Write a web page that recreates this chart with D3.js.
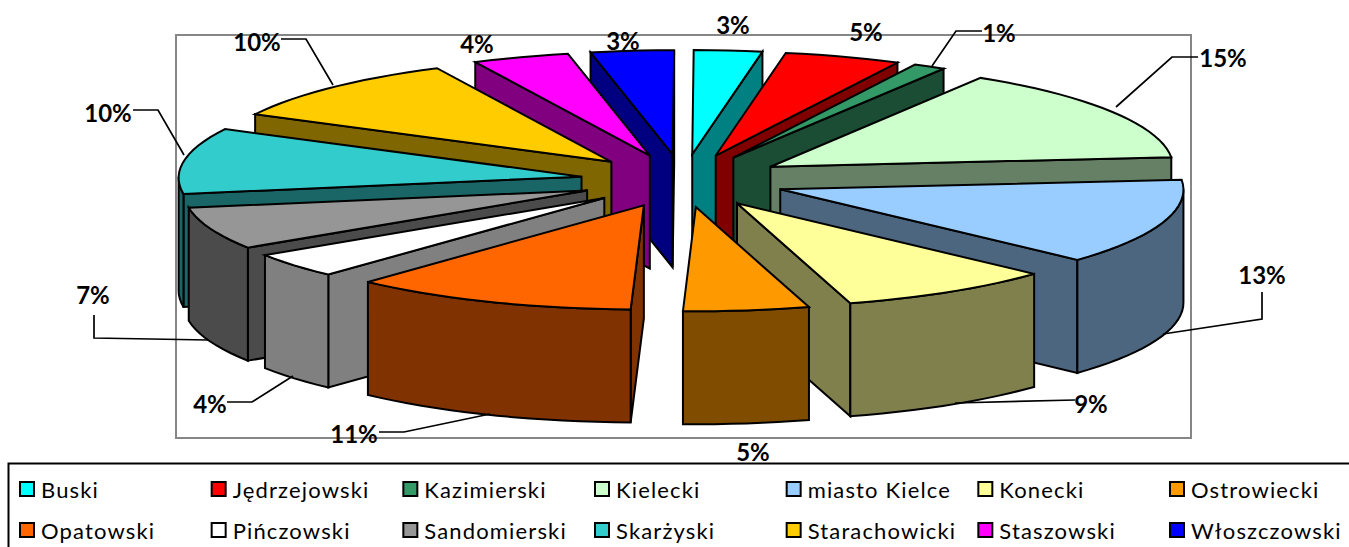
<!DOCTYPE html>
<html><head><meta charset="utf-8">
<script src="https://cdn.jsdelivr.net/npm/d3@7"></script>
<style>html,body{margin:0;padding:0;background:#fff;overflow:hidden}svg{display:block}</style>
</head><body><svg id="c" width="1349" height="547"></svg>
<script>
const categories = ["Buski","Jędrzejowski","Kazimierski","Kielecki","miasto Kielce","Konecki","Ostrowiecki","Opatowski","Pińczowski","Sandomierski","Skarżyski","Starachowicki","Staszowski","Włoszczowski"];
const values = [2.75,4.7,1.3,14.8,13.3,8.6,5.0,11.4,3.9,6.6,10.2,10.2,3.9,3.35];
const colors = ["#00FFFF","#FF0000","#339966","#CCFFCC","#99CCFF","#FFFF99","#FF9900","#FF6600","#FFFFFF","#969696","#33CCCC","#FFCC00","#FF00FF","#0000FF"];

// Chart geometry
const W = 1349, H = 547;
const cx = 683, cy = 180.75, radius = 403, squash = 0.2585, depth = 113, explode = 0.255, shear = 1.5, persp = 0.006;
const x = d3.scaleLinear().domain([-1,1]).range([cx-radius, cx+radius]);
const y = d3.scaleLinear().domain([-1,1]).range([cy-radius*squash, cy+radius*squash]);

// Label placement: [text x, text y centre, leader polyline]
const labelLayout = [
 {x:733,y:24},
 {x:866,y:31},
 {x:999,y:32,l:[[982,31],[956,31],[932,66]]},
 {x:1223,y:57,l:[[1198,57],[1172,57],[1116,107]]},
 {x:1262,y:274,l:[[1262,292],[1262,319],[1163,334]]},
 {x:1091,y:403,l:[[1075,400],[955,403]]},
 {x:753,y:451},
 {x:354,y:433,l:[[379,432],[404,432],[490,414]]},
 {x:210,y:403,l:[[227,402],[252,402],[293,376]]},
 {x:93,y:294,l:[[94,315],[94,338],[208,340]]},
 {x:108,y:112,l:[[133,110],[158,110],[184,155]]},
 {x:257,y:41,l:[[281,39],[306,39],[333,85]]},
 {x:477,y:43},
 {x:623,y:40}
];

const svg = d3.select("#c");
const pie = d3.pie().sort(null).startAngle(0).endAngle(2*Math.PI);
const arcs = pie(values).map((d,i)=>({a0:d.startAngle,a1:d.endAngle,mid:(d.startAngle+d.endAngle)/2,i}));

// plot-area border
svg.append("rect").attr("x",176).attr("y",35).attr("width",1015).attr("height",403)
  .attr("fill","none").attr("stroke","#868686").attr("stroke-width",2);

const line = d3.line();
const dark = c => { const r = d3.rgb(c); return d3.rgb(r.r/2,r.g/2,r.b/2).formatHex(); };
function pt(d, a, r, drop){
  const ox = explode*Math.sin(d.mid), oy = -explode*Math.cos(d.mid);
  const Y = oy - r*Math.cos(a);
  const X = (ox + r*Math.sin(a)) * (1 + persp*Y);
  return [x(X) - shear*Y, y(Y) + (drop?depth:0)];
}
function arcPts(d, a0, a1, drop){
  const n = Math.max(2, Math.ceil((a1-a0)/(2.5*Math.PI/180)));
  return d3.range(n+1).map(k=>pt(d, a0+(a1-a0)*k/n, 1, drop));
}

const order = arcs.slice().sort((p,q)=>Math.cos(q.mid)-Math.cos(p.mid));
const g = svg.append("g");
order.forEach(d=>{
  const c = colors[d.i], w = dark(c);
  const s = g.append("g");
  const face = (pts,fill)=>s.append("path").attr("d",line(pts)+"Z").attr("fill",fill)
     .attr("stroke","#000").attr("stroke-width",2).attr("stroke-linejoin","miter");
  if (Math.sin(d.a0) < 0) face([pt(d,0,0,false),pt(d,d.a0,1,false),pt(d,d.a0,1,true),pt(d,0,0,true)],w);
  if (Math.sin(d.a1) > 0) face([pt(d,0,0,false),pt(d,d.a1,1,false),pt(d,d.a1,1,true),pt(d,0,0,true)],w);
  const f0 = Math.max(d.a0,Math.PI/2), f1 = Math.min(d.a1,1.5*Math.PI);
  if (f1 > f0) face(arcPts(d,f0,f1,false).concat(arcPts(d,f0,f1,true).reverse()),w);
  face([pt(d,0,0,false)].concat(arcPts(d,d.a0,d.a1,false)),c);
});

// leaders and labels
const fmt = v => Math.round(v)+"%";
labelLayout.forEach((L,i)=>{
  if (L.l) svg.append("path").attr("d",line(L.l)).attr("fill","none").attr("stroke","#000").attr("stroke-width",1.7);
});
svg.append("g").selectAll("text").data(values).join("text")
  .attr("x",(d,i)=>labelLayout[i].x).attr("y",(d,i)=>labelLayout[i].y)
  .attr("text-anchor","middle").attr("dominant-baseline","central")
  .attr("font-family","Lato, 'Open Sans', sans-serif").attr("font-weight",700).attr("font-size",24)
  .attr("fill","#000").text(fmt);

// legend
svg.append("rect").attr("x",8.5).attr("y",463.5).attr("width",1400).attr("height",120)
  .attr("fill","#fff").attr("stroke","#000").attr("stroke-width",2);
const legendCol = d3.scalePoint().domain(d3.range(7)).range([20,1170]);
const legendRow = d3.scalePoint().domain([0,1]).range([489,530]);
const lg = svg.append("g").selectAll("g").data(categories).join("g")
  .attr("transform",(d,i)=>`translate(${legendCol(i%7)},${legendRow(Math.floor(i/7))})`);
lg.append("rect").attr("x",0).attr("y",-7).attr("width",14).attr("height",14)
  .attr("fill",(d,i)=>colors[i]).attr("stroke","#000").attr("stroke-width",2);
lg.append("text").attr("x",21).attr("y",0).attr("dominant-baseline","central")
  .attr("font-family","Lato, 'Open Sans', sans-serif").attr("font-size",22).attr("letter-spacing","1.15px")
  .attr("fill","#000").text(d=>d);
</script></body></html>
